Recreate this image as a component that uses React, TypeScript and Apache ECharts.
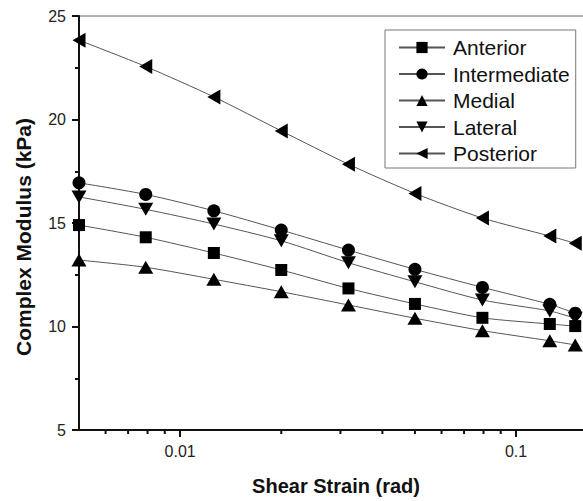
import React, { useEffect, useRef } from "react";
import * as echarts from "echarts";

const strain = [0.005, 0.0079, 0.0126, 0.02, 0.0317, 0.05, 0.0794, 0.126, 0.15];
const anterior = [14.9, 14.31, 13.55, 12.73, 11.84, 11.09, 10.42, 10.12, 10.02];
const intermediate = [16.94, 16.38, 15.59, 14.66, 13.69, 12.76, 11.89, 11.07, 10.64];
const medial = [13.21, 12.86, 12.28, 11.68, 11.04, 10.4, 9.8, 9.31, 9.11];
const lateral = [16.26, 15.66, 14.95, 14.14, 13.08, 12.16, 11.28, 10.75, 10.4];
const posterior = [23.83, 22.56, 21.09, 19.45, 17.84, 16.43, 15.24, 14.37, 14.02];
const minorXTicks = [0.006, 0.007, 0.008, 0.009, 0.02, 0.03, 0.04, 0.05, 0.06, 0.07, 0.08, 0.09];
const xMin = 0.005;
const xMax = 0.1582;
const yMin = 5;
const yMax = 25;
const yStep = 5;

const FONT = "'Liberation Sans', Arial, sans-serif";

const seriesDefs = [
  { name: "Anterior", values: anterior, symbol: "rect", size: [12, 12] },
  { name: "Intermediate", values: intermediate, symbol: "circle", size: [13, 13] },
  { name: "Medial", values: medial, symbol: "path://M5,0L10,9L0,9Z", size: [15, 13] },
  { name: "Lateral", values: lateral, symbol: "path://M0,0L10,0L5,9Z", size: [15, 13] },
  { name: "Posterior", values: posterior, symbol: "path://M9,0L9,10L0,5Z", size: [13, 15] },
];

export default function App() {
  const ref = useRef<HTMLDivElement>(null);
  useEffect(() => {
    if (!ref.current) return;
    const chart = echarts.init(ref.current, undefined, { renderer: "svg" });
    const lineSeries = seriesDefs.map((d) => ({
      name: d.name,
      type: "line",
      data: strain.map((x, i) => [x, d.values[i]]),
      symbol: d.symbol,
      symbolSize: d.size,
      showAllSymbol: true,
      smooth: 0.25,
      itemStyle: { color: "#000" },
      lineStyle: { color: "#555", width: 1 },
      z: 3,
    }));
    chart.setOption({
      animation: false,
      grid: { left: 79, right: 0, top: 16, bottom: 71, outerBoundsMode: "none" },
      legend: {
        data: seriesDefs.map((d) => d.name),
        orient: "vertical",
        left: 385,
        top: 30,
        width: 194,
        itemWidth: 46,
        itemHeight: 14,
        itemGap: 5.5,
        padding: [7, 6, 4, 13],
        borderColor: "#777",
        borderWidth: 1,
        textStyle: { fontFamily: FONT, fontSize: 21, lineHeight: 21, color: "#111", padding: [0, 0, 0, 3] },
        selectedMode: false,
      },
      xAxis: {
        type: "log",
        min: xMin,
        max: xMax,
        axisLine: { show: true, lineStyle: { color: "#111", width: 2 } },
        axisTick: { show: true, length: 7, lineStyle: { color: "#111", width: 2 } },
        splitLine: { show: false },
        axisLabel: {
          showMinLabel: false,
          showMaxLabel: false,
          fontFamily: FONT,
          fontSize: 16,
          color: "#222",
          margin: 13,
          formatter: (v: number) => {
            const l = Math.log10(v);
            const r = Math.round(l);
            return Math.abs(l - r) < 1e-6 ? String(Math.pow(10, r)) : "";
          },
        },
      },
      yAxis: {
        type: "value",
        min: yMin,
        max: yMax,
        interval: yStep,
        axisLine: { show: true, lineStyle: { color: "#111", width: 2 } },
        axisTick: { show: true, length: 7, lineStyle: { color: "#111", width: 2 } },
        minorTick: { show: true, splitNumber: 2, length: 4, lineStyle: { color: "#111", width: 2 } },
        splitLine: { show: false },
        axisLabel: { fontFamily: FONT, fontSize: 16, color: "#222", margin: 13 },
      },
      graphic: [
        {
          type: "text",
          x: 23,
          y: 237,
          rotation: Math.PI / 2,
          style: {
            text: "Complex Modulus (kPa)",
            font: `bold 21px ${FONT}`,
            fill: "#111",
            align: "center",
            verticalAlign: "middle",
          },
        },
        {
          type: "text",
          x: 336,
          y: 486,
          style: {
            text: "Shear Strain (rad)",
            font: `bold 20px ${FONT}`,
            fill: "#111",
            align: "center",
            verticalAlign: "middle",
          },
        },
        {
          type: "line",
          shape: { x1: 79, y1: 16, x2: 583, y2: 16 },
          style: { stroke: "#666", lineWidth: 1 },
        },
      ],
      series: [
        ...lineSeries,
        {
          type: "custom",
          clip: false,
          silent: true,
          data: minorXTicks.map((x) => [x, yMin]),
          encode: { x: 0, y: 1 },
          renderItem: (_params: any, api: any) => {
            const p = api.coord([api.value(0), api.value(1)]);
            return {
              type: "line",
              shape: { x1: p[0], y1: p[1], x2: p[0], y2: p[1] + 4 },
              style: { stroke: "#111", lineWidth: 2 },
            };
          },
        },
      ],
    });
    return () => chart.dispose();
  }, []);
  return (
    <div
      ref={ref}
      style={{ position: "fixed", left: 0, top: 0, width: 583, height: 501, background: "#fff" }}
    />
  );
}
